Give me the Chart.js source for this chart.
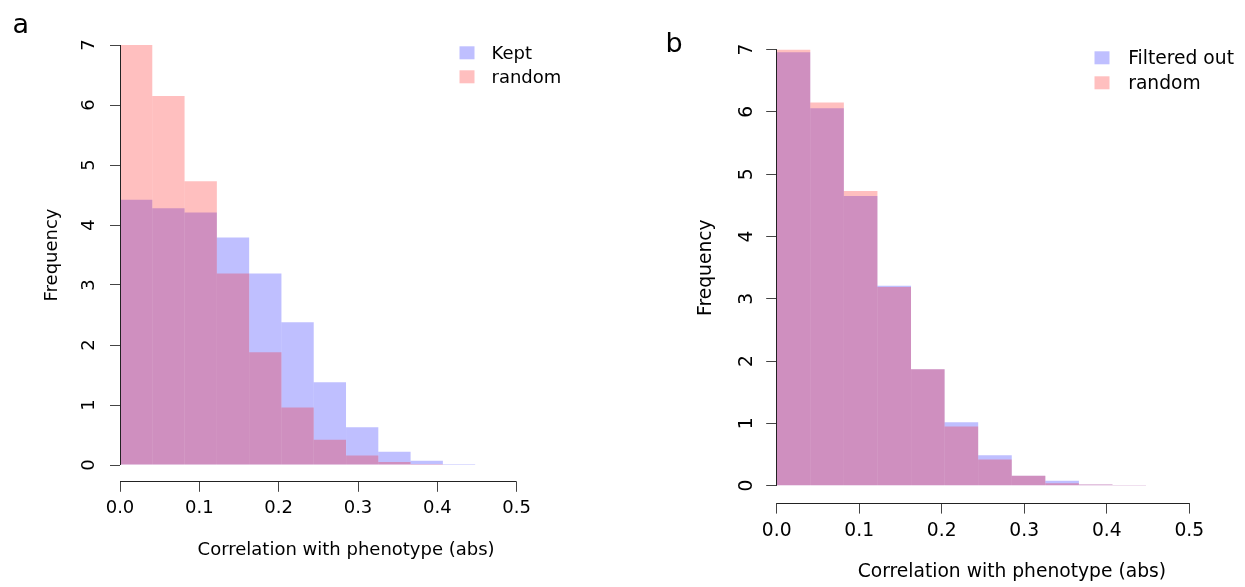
<!DOCTYPE html>
<html>
<head>
<meta charset="utf-8">
<script src="https://cdn.jsdelivr.net/npm/chart.js@4/dist/chart.umd.min.js"></script>
<style>
  html, body { margin: 0; padding: 0; background: #fff; overflow: hidden; width: 1245px; height: 587px; }
  canvas { position: absolute; top: 0; }
  #panelA { left: 0; }
  #panelB { left: 640px; }
</style>
</head>
<body>
<canvas id="panelA" width="600" height="587"></canvas>
<canvas id="panelB" width="620" height="587"></canvas>
<script>
// bin centres of the histogram (abs correlation)
const binCenters = [0.02035, 0.06105, 0.10175, 0.14245, 0.18315, 0.22385, 0.26455, 0.30525, 0.34595, 0.38665, 0.42735];

// panel a
const keptFreq    = [4.42, 4.28, 4.21, 3.79, 3.19, 2.38, 1.38, 0.63, 0.22, 0.07, 0.015];
const randomFreqA = [7.00, 6.15, 4.73, 3.19, 1.88, 0.96, 0.42, 0.16, 0.05, 0.015, 0.00];

// panel b
const filteredFreq = [6.96, 6.06, 4.65, 3.21, 1.87, 1.02, 0.49, 0.16, 0.08, 0.02, 0.01];
const randomFreqB  = [7.00, 6.15, 4.73, 3.19, 1.87, 0.95, 0.42, 0.16, 0.04, 0.02, 0.01];

const yTicks = [0, 1, 2, 3, 4, 5, 6, 7];
const xTicks = [0, 0.1, 0.2, 0.3, 0.4, 0.5];

const BLUE = 'rgba(0,0,255,0.25)';
const RED = 'rgba(255,0,0,0.25)';

Chart.defaults.font.family = "'DejaVu Sans', sans-serif";
Chart.defaults.color = '#000';

function align(v) { return Math.round(v - 0.5) + 0.5; }

const decorPlugin = {
  id: 'decor',
  afterDraw(chart, args, o) {
    const { ctx, chartArea, scales: { x, y } } = chart;
    ctx.save();
    // R style axes: only across the tick range
    ctx.strokeStyle = '#222';
    ctx.lineWidth = 1;
    ctx.beginPath();
    const ax = align(chartArea.left);
    ctx.moveTo(ax, y.getPixelForValue(0));
    ctx.lineTo(ax, y.getPixelForValue(7));
    const ay = align(chartArea.bottom);
    ctx.moveTo(x.getPixelForValue(0), ay);
    ctx.lineTo(x.getPixelForValue(0.5), ay);
    ctx.stroke();

    // legend
    ctx.font = o.fontSize + "px 'DejaVu Sans'";
    ctx.textBaseline = 'alphabetic';
    ctx.textAlign = 'left';
    o.items.forEach((it, i) => {
      const by = o.baselines[i];
      ctx.fillStyle = it.color;
      ctx.fillRect(o.boxX, by - o.boxDrop, 15, 13);
      ctx.fillStyle = '#000';
      ctx.fillText(it.label, o.textX, by);
    });

    // panel letter
    ctx.font = "27px 'DejaVu Sans'";
    ctx.fillText(o.letter, o.letterX, o.letterY);
    ctx.restore();
  }
};

function makePanel(id, p) {
  const ctx = document.getElementById(id).getContext('2d');
  return new Chart(ctx, {
    type: 'bar',
    data: {
      datasets: [
        {
          label: p.blueLabel,
          data: binCenters.map((c, i) => ({ x: c, y: p.blue[i] })),
          backgroundColor: BLUE,
          borderWidth: 0,
          order: 1
        },
        {
          label: 'random',
          data: binCenters.map((c, i) => ({ x: c, y: p.red[i] })),
          backgroundColor: RED,
          borderWidth: 0,
          order: 0
        }
      ]
    },
    options: {
      responsive: false,
      animation: false,
      devicePixelRatio: 1,
      layout: { padding: { top: p.padTop, right: p.padRight, left: 0, bottom: 0 } },
      datasets: { bar: { barPercentage: 1, categoryPercentage: 1, grouped: false, inflateAmount: 0 } },
      scales: {
        x: {
          type: 'linear',
          min: 0,
          max: 0.57,
          offset: false,
          afterBuildTicks: s => { s.ticks = xTicks.map(v => ({ value: v })); },
          afterFit: s => { s.height = p.xHeight; },
          ticks: {
            font: { size: p.fontSize },
            padding: p.xLabelPad,
            maxRotation: 0,
            callback: v => Number(v).toFixed(1)
          },
          grid: { offset: false, drawOnChartArea: false, drawTicks: true, tickLength: p.tickLen, color: '#444' },
          border: { display: false },
          title: {
            display: true,
            text: 'Correlation with phenotype (abs)',
            font: { size: p.fontSize },
            padding: { top: 0, bottom: p.xTitlePad }
          }
        },
        y: {
          min: -0.28,
          max: 7.28,
          afterBuildTicks: s => { s.ticks = yTicks.map(v => ({ value: v })); },
          afterFit: s => { s.width = p.yWidth; },
          ticks: {
            font: { size: p.fontSize },
            minRotation: 90,
            maxRotation: 90,
            crossAlign: 'center',
            padding: p.yLabelPad,
            callback: v => String(v)
          },
          grid: { drawOnChartArea: false, drawTicks: true, tickLength: p.tickLen, color: '#444' },
          border: { display: false },
          title: {
            display: true,
            text: 'Frequency',
            font: { size: p.fontSize },
            padding: { top: p.yTitlePad, bottom: 0 }
          }
        }
      },
      plugins: {
        legend: { display: false },
        tooltip: { enabled: false },
        decor: {
          fontSize: p.fontSize,
          items: [{ label: p.blueLabel, color: BLUE }, { label: 'random', color: RED }],
          boxX: p.boxX,
          boxDrop: 13,
          textX: p.textX,
          baselines: p.baselines,
          letter: p.letter,
          letterX: p.letterX,
          letterY: p.letterY
        }
      }
    },
    plugins: [decorPlugin]
  });
}

makePanel('panelA', {
  blue: keptFreq, red: randomFreqA, blueLabel: 'Kept',
  fontSize: 18, padTop: 28.2, padRight: 27.8, xHeight: 105.2, yWidth: 120,
  tickLen: 10, xLabelPad: 6, yLabelPad: 15, xTitlePad: 26, yTitlePad: 42,
  boxX: 459.5, textX: 491.5, baselines: [59.3, 83.3],
  letter: 'a', letterX: 12.5, letterY: 33.3
});

makePanel('panelB', {
  blue: filteredFreq, red: randomFreqB, blueLabel: 'Filtered out',
  fontSize: 18.7, padTop: 32.2, padRight: 13, xHeight: 83.9, yWidth: 136.7,
  tickLen: 10.5, xLabelPad: 6.5, yLabelPad: 13.5, xTitlePad: 4, yTitlePad: 55,
  boxX: 454.5, textX: 488.2, baselines: [64.3, 89.3],
  letter: 'b', letterX: 25.5, letterY: 51.7
});
</script>
</body>
</html>
